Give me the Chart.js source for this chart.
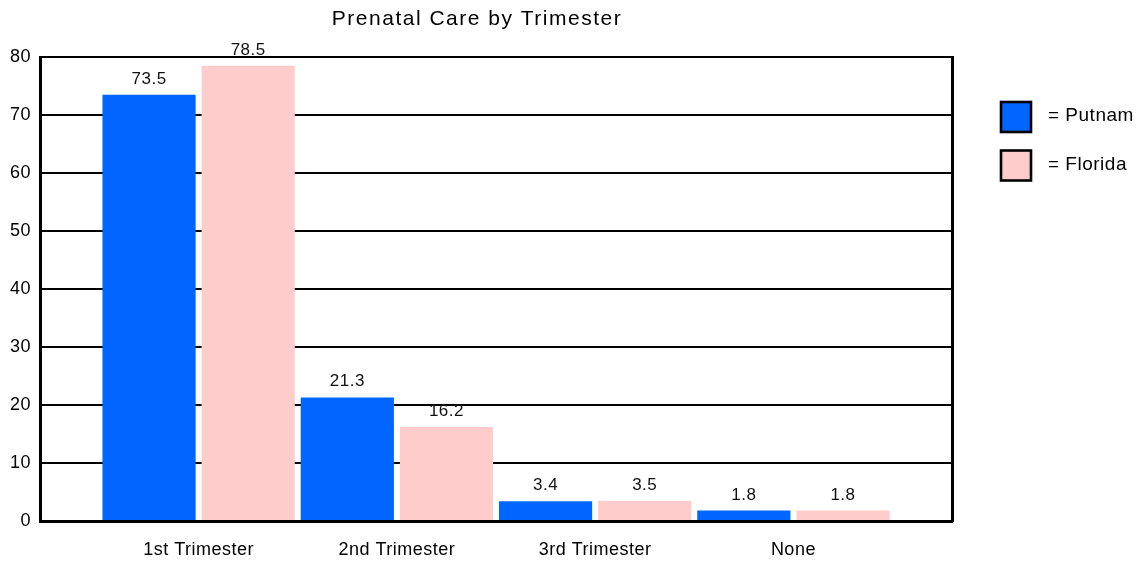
<!DOCTYPE html>
<html><head><meta charset="utf-8">
<script src="https://cdn.jsdelivr.net/npm/chart.js@4/dist/chart.umd.min.js"></script>
<style>html,body{margin:0;padding:0;background:#fff}#wrap{width:1144px;height:561px}</style>
</head><body><div id="wrap"><canvas id="c" width="1144" height="561"></canvas></div>
<script>
const categories = ['1st Trimester', '2nd Trimester', '3rd Trimester', 'None'];
const putnam = [73.5, 21.3, 3.4, 1.8];
const florida = [78.5, 16.2, 3.5, 1.8];
const yTicks = [0, 10, 20, 30, 40, 50, 60, 70, 80];
const seriesNames = ['Putnam', 'Florida'];
const seriesColors = ['#0066FF', '#FFCCCC'];
const titleText = 'Prenatal Care by Trimester';

const FONT = "'Liberation Sans', Arial, sans-serif";

const decor = {
  id: 'decor',
  beforeDraw(chart) {
    chart.ctx.letterSpacing = '0.5px';
  },
  afterDatasetsDraw(chart) {
    const ctx = chart.ctx;
    ctx.save();
    ctx.letterSpacing = '0.5px';
    ctx.font = '17px ' + FONT;
    ctx.fillStyle = '#111';
    ctx.textAlign = 'center';
    ctx.textBaseline = 'alphabetic';
    chart.data.datasets.forEach((ds, di) => {
      const meta = chart.getDatasetMeta(di);
      meta.data.forEach((el, i) => {
        ctx.fillText(String(ds.data[i].y), el.x, el.y - 11);
      });
    });
    ctx.restore();
  },
  afterDraw(chart) {
    const ctx = chart.ctx;
    ctx.save();
    // title
    ctx.letterSpacing = '1.5px';
    ctx.font = '21px ' + FONT;
    ctx.fillStyle = '#000';
    ctx.textAlign = 'center';
    ctx.textBaseline = 'alphabetic';
    ctx.fillText(titleText, 477, 25);
    // legend
    ctx.letterSpacing = '0.5px';
    ctx.font = '19px ' + FONT;
    ctx.textAlign = 'left';
    seriesNames.forEach((name, i) => {
      const y = 102 + i * 48.5;
      ctx.fillStyle = seriesColors[i];
      ctx.fillRect(1001, y, 30, 30);
      ctx.lineWidth = 2.6;
      ctx.strokeStyle = '#000';
      ctx.strokeRect(1001, y, 30, 30);
      ctx.fillStyle = '#000';
      ctx.fillText('= ' + name, 1048, y + 19);
    });
    ctx.restore();
  }
};

new Chart(document.getElementById('c'), {
  type: 'bar',
  data: {
    datasets: [
      { label: seriesNames[0], data: putnam.map((v, i) => ({ x: i, y: v })), backgroundColor: seriesColors[0], borderWidth: 0 },
      { label: seriesNames[1], data: florida.map((v, i) => ({ x: i, y: v })), backgroundColor: seriesColors[1], borderWidth: 0 }
    ]
  },
  options: {
    responsive: false,
    devicePixelRatio: 1,
    animation: false,
    categoryPercentage: 1.0,
    barPercentage: 0.94,
    layout: { padding: { left: 0, right: 192, top: 57, bottom: 0 } },
    plugins: { legend: { display: false }, title: { display: false }, tooltip: { enabled: false } },
    scales: {
      x: {
        type: 'linear',
        min: -0.8,
        max: 3.8,
        offset: false,
        z: 1,
        afterBuildTicks: s => { s.ticks = categories.map((_, i) => ({ value: i })); },
        afterFit: s => { s.height = 40; },
        ticks: {
          callback: v => categories[v] ?? '',
          font: { family: FONT, size: 18 },
          color: '#000',
          padding: 10,
          maxRotation: 0,
          autoSkip: false
        },
        grid: { display: false, offset: false },
        border: { display: true, color: '#000', width: 3 }
      },
      y: {
        min: 0,
        max: 80,
        afterBuildTicks: s => { s.ticks = yTicks.map(v => ({ value: v })); },
        afterFit: s => { s.width = 40; },
        ticks: { font: { family: FONT, size: 18 }, color: '#000', padding: 9 },
        grid: { color: '#000', lineWidth: 2, drawTicks: false },
        border: { display: true, color: '#000', width: 3 }
      },
      y2: {
        position: 'right',
        min: 0,
        max: 80,
        afterFit: s => { s.width = 0; },
        ticks: { display: false },
        grid: { display: false, drawTicks: false },
        border: { display: true, color: '#000', width: 3 }
      }
    }
  },
  plugins: [decor]
});
</script>
</body></html>
